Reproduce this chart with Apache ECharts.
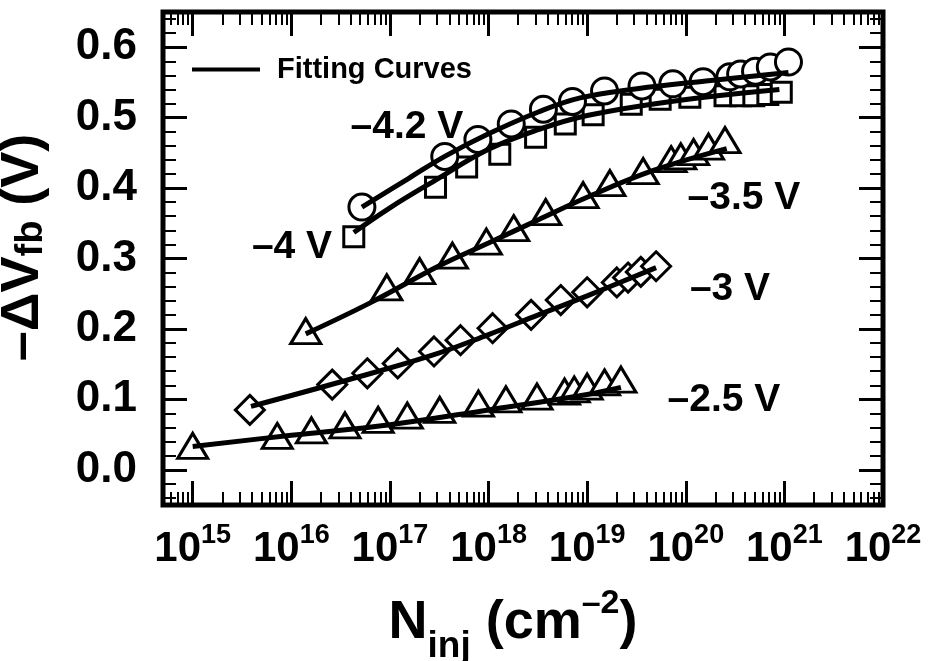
<!DOCTYPE html>
<html>
<head>
<meta charset="utf-8">
<script src="https://cdn.jsdelivr.net/npm/echarts@6/dist/echarts.min.js"></script>
<style>
  html, body { margin: 0; padding: 0; background: #fff; }
  #chart { width: 928px; height: 661px; }
</style>
</head>
<body>
<div id="chart"></div>
<script>
// ticks
var xMajor = [1e15, 1e16, 1e17, 1e18, 1e19, 1e20, 1e21, 1e22]
var xMinorMult = [2, 3, 4, 5, 6, 7, 8, 9]
var yMajor = [0, 0.1, 0.2, 0.3, 0.4, 0.5, 0.6]
var yMinor = [-0.04, -0.02, 0.02, 0.04, 0.06, 0.08, 0.12, 0.14, 0.16, 0.18,
  0.22, 0.24, 0.26, 0.28, 0.32, 0.34, 0.36, 0.38, 0.42, 0.44, 0.46, 0.48,
  0.52, 0.54, 0.56, 0.58, 0.62, 0.64]

// -2.5 V (triangles)
var n25 = [1.0e15, 7.2e15, 1.6e16, 3.5e16, 7.6e16, 1.5e17, 3.2e17, 7.9e17, 1.5e18, 3.1e18, 5.9e18, 7.4e18, 1.0e19, 1.5e19, 2.2e19]
var v25 = [0.034, 0.048, 0.056, 0.063, 0.071, 0.077, 0.085, 0.094, 0.100, 0.104, 0.111, 0.114, 0.118, 0.124, 0.128]
var fitN25 = [1e15, 1e16, 1e17, 1e18, 1e19, 2.2e19]
var fitV25 = [0.033, 0.049, 0.064, 0.085, 0.107, 0.117]

// -3 V (diamonds)
var n30 = [3.8e15, 2.6e16, 5.9e16, 1.2e17, 2.8e17, 5.2e17, 1.1e18, 2.7e18, 5.4e18, 1.0e19, 2.0e19, 2.6e19, 3.5e19, 5.0e19]
var v30 = [0.085, 0.121, 0.137, 0.151, 0.168, 0.184, 0.201, 0.220, 0.241, 0.252, 0.266, 0.273, 0.281, 0.289]
var fitN30 = [3.9e15, 3.2e16, 2.6e17, 1e18, 3.2e18, 1e19, 5e19]
var fitV30 = [0.090, 0.125, 0.162, 0.192, 0.220, 0.247, 0.287]

// -3.5 V (triangles)
var n35 = [1.4e16, 9.3e16, 2.0e17, 4.3e17, 9.5e17, 1.8e18, 3.8e18, 9.1e18, 1.7e19, 3.7e19, 7.1e19, 8.9e19, 1.2e20, 1.7e20, 2.5e20]
var v35 = [0.197, 0.259, 0.282, 0.304, 0.324, 0.343, 0.366, 0.390, 0.407, 0.424, 0.441, 0.445, 0.451, 0.459, 0.468]
var fitN35 = [1.4e16, 6.3e16, 3.2e17, 1e18, 3.2e18, 1e19, 4.7e19, 2.6e20]
var fitV35 = [0.193, 0.237, 0.290, 0.322, 0.355, 0.387, 0.425, 0.456]

// -4 V (squares)
var n40 = [4.3e16, 2.9e17, 6.0e17, 1.3e18, 3.0e18, 6.0e18, 1.15e19, 2.8e19, 5.5e19, 1.1e20, 2.5e20, 3.6e20, 4.9e20, 6.8e20, 9.3e20]
var v40 = [0.331, 0.401, 0.430, 0.448, 0.472, 0.491, 0.504, 0.519, 0.526, 0.529, 0.531, 0.531, 0.531, 0.533, 0.536]
var fitN40 = [4.3e16, 1e17, 2.8e17, 1e18, 3.2e18, 1e19, 7.1e19, 8.9e20]
var fitV40 = [0.337, 0.372, 0.410, 0.455, 0.483, 0.503, 0.523, 0.540]

// -4.2 V (circles)
var n42 = [5.2e16, 3.6e17, 7.8e17, 1.7e18, 3.6e18, 7.1e18, 1.5e19, 3.6e19, 7.4e19, 1.5e20, 2.8e20, 3.6e20, 5.1e20, 7.2e20, 1.1e21]
var v42 = [0.373, 0.445, 0.469, 0.491, 0.512, 0.523, 0.538, 0.545, 0.548, 0.551, 0.558, 0.562, 0.566, 0.572, 0.579]
var fitN42 = [5.2e16, 1.6e17, 3.6e17, 1e18, 3.2e18, 8.5e18, 3.2e19, 1.6e20, 1.1e21]
var fitV42 = [0.373, 0.415, 0.445, 0.477, 0.508, 0.528, 0.541, 0.552, 0.564]

var FONT = "'Liberation Sans', Arial, Helvetica, sans-serif"

var xMinor = [6e14, 7e14, 8e14, 9e14]
xMajor.slice(0, 7).forEach(function (d) {
  xMinorMult.forEach(function (m) { xMinor.push(d * m) })
})

function pairs(xs, ys) {
  return xs.map(function (x, i) { return [x, ys[i]] })
}

function xAxisDef(pos, ticks, len, width, withLabel) {
  var ax = {
    type: 'log', logBase: 10, min: 5e14, max: 1e22, position: pos,
    axisLine: { show: false, onZero: false },
    splitLine: { show: false },
    axisTick: { show: true, inside: true, length: len, customValues: ticks,
      lineStyle: { color: '#000', width: width } },
    axisLabel: { show: false }
  }
  if (withLabel) {
    ax.axisLabel = {
      show: true, customValues: xMajor, margin: 22, color: '#000',
      formatter: function (v) { return '{b|10}{s|' + Math.round(Math.log10(v)) + '}' },
      rich: {
        b: { fontSize: 42, fontWeight: 'bold', fontFamily: FONT, color: '#000', lineHeight: 44, verticalAlign: 'middle' },
        s: { fontSize: 27, fontWeight: 'bold', fontFamily: FONT, color: '#000', lineHeight: 28, verticalAlign: 'middle', padding: [0, 0, 26, 0] }
      }
    }
    ax.name = '{n|N}{sub|inj}{n| (cm}{sup|–2}{n|)}'
    ax.nameLocation = 'middle'
    ax.nameGap = 85
    ax.nameTextStyle = {
      padding: [0, 20, 0, 0],
      rich: {
        n: { fontSize: 54, fontWeight: 'bold', fontFamily: FONT, color: '#000', lineHeight: 62, verticalAlign: 'middle' },
        sub: { fontSize: 37, fontWeight: 'bold', fontFamily: FONT, color: '#000', lineHeight: 37, verticalAlign: 'middle', padding: [48, 0, 0, 0] },
        sup: { fontSize: 34, fontWeight: 'bold', fontFamily: FONT, color: '#000', lineHeight: 34, verticalAlign: 'middle', padding: [0, 0, 38, 0] }
      }
    }
  }
  return ax
}

function yAxisDef(pos, ticks, len, width, withLabel) {
  var ax = {
    type: 'value', min: -0.05, max: 0.65, position: pos,
    axisLine: { show: false, onZero: false },
    splitLine: { show: false },
    axisTick: { show: true, inside: true, length: len, customValues: ticks,
      lineStyle: { color: '#000', width: width } },
    axisLabel: { show: false }
  }
  if (withLabel) {
    ax.axisLabel = {
      show: true, customValues: yMajor, margin: 26, color: '#000',
      fontSize: 44, fontWeight: 'bold', fontFamily: FONT,
      formatter: function (v) { return v.toFixed(1) }
    }
    ax.name = '{a|–ΔV}{b|fb}{a| (V)}'
    ax.nameLocation = 'middle'
    ax.nameRotate = 90
    ax.nameGap = 110
    ax.nameTextStyle = {
      padding: [0, 0, 0, 22],
      rich: {
        a: { fontSize: 54, fontWeight: 'bold', fontFamily: FONT, color: '#000', lineHeight: 60, verticalAlign: 'middle' },
        b: { fontSize: 38, fontWeight: 'bold', fontFamily: FONT, color: '#000', lineHeight: 38, verticalAlign: 'middle', padding: [18, 0, 0, 0] }
      }
    }
  }
  return ax
}

function markers(name, sym, size, xs, ys) {
  return {
    name: name, type: 'scatter', symbol: sym, symbolSize: size, z: 2,
    data: pairs(xs, ys),
    itemStyle: { color: '#fff', borderColor: '#000', borderWidth: 3, opacity: 1 }
  }
}

function fit(xs, ys) {
  return {
    name: 'Fitting Curves', type: 'line', symbol: 'none', smooth: 0.4, z: 3,
    data: pairs(xs, ys),
    lineStyle: { color: '#000', width: 5 },
    itemStyle: { color: '#000' }
  }
}

function note(text, x, y) {
  return {
    type: 'text', x: x, y: y, z: 10,
    style: { text: text, font: 'bold 39px ' + FONT, fill: '#000',
      textAlign: 'center', textVerticalAlign: 'middle', align: 'center', verticalAlign: 'middle' }
  }
}

var chart = echarts.init(document.getElementById('chart'), null, { renderer: 'canvas' })
chart.setOption({
  animation: false,
  backgroundColor: '#fff',
  grid: { left: 163, right: 45, top: 12, bottom: 156, outerBoundsMode: 'none', containLabel: false,
    show: true, borderColor: '#000', borderWidth: 5, backgroundColor: 'transparent' },
  legend: {
    data: [{ name: 'Fitting Curves', icon: 'rect' }], left: 192, top: 55, padding: 0,
    itemWidth: 68, itemHeight: 4, selectedMode: false,
    itemStyle: { color: '#000', borderWidth: 0 },
    textStyle: { fontSize: 29, fontWeight: 'bold', fontFamily: FONT, color: '#000', padding: [0, 0, 0, 12] }
  },
  xAxis: [
    xAxisDef('bottom', xMajor, 24, 3, true),
    xAxisDef('top', xMajor, 24, 3, false),
    xAxisDef('bottom', xMinor, 13, 2, false),
    xAxisDef('top', xMinor, 13, 2, false)
  ],
  yAxis: [
    yAxisDef('left', yMajor, 24, 3, true),
    yAxisDef('right', yMajor, 24, 3, false),
    yAxisDef('left', yMinor, 13, 2, false),
    yAxisDef('right', yMinor, 13, 2, false)
  ],
  graphic: [
    note('–4.2 V', 407, 127),
    note('–4 V', 292, 247),
    note('–3.5 V', 744, 198),
    note('–3 V', 730, 289),
    note('–2.5 V', 724, 400)
  ],
  series: [
    markers('–2.5 V', 'triangle', [30, 25], n25, v25),
    markers('–3 V', 'diamond', [29, 29], n30, v30),
    markers('–3.5 V', 'triangle', [30, 25], n35, v35),
    markers('–4 V', 'rect', [20, 20], n40, v40),
    markers('–4.2 V', 'circle', 26, n42, v42),
    fit(fitN25, fitV25),
    fit(fitN30, fitV30),
    fit(fitN35, fitV35),
    fit(fitN40, fitV40),
    fit(fitN42, fitV42)
  ]
})
</script>
</body>
</html>
